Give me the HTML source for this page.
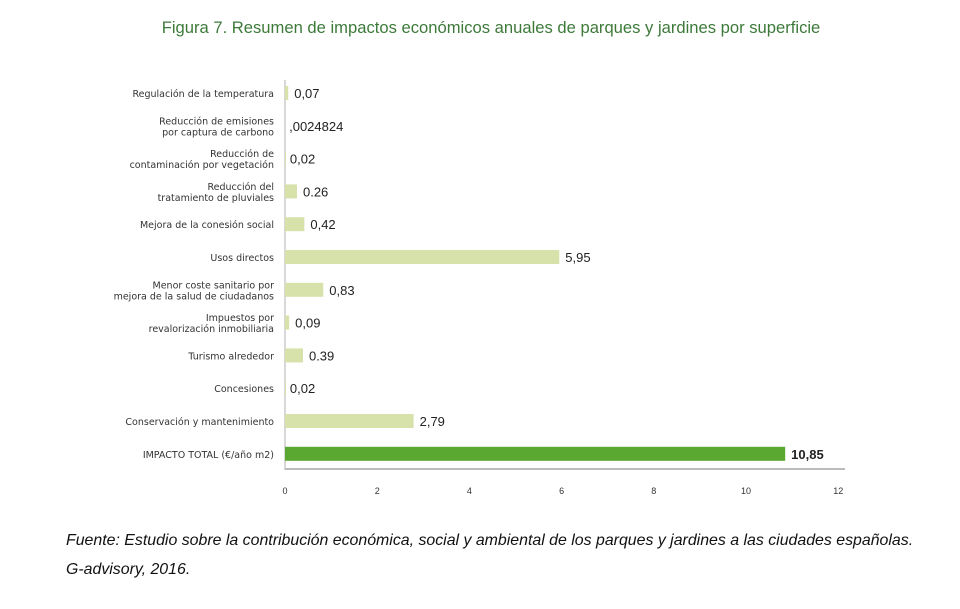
<!DOCTYPE html>
<html><head><meta charset="utf-8"><style>
body{margin:0;background:#fff;width:960px;height:609px;overflow:hidden;font-family:"Liberation Sans",sans-serif}
#title{position:absolute;left:0;width:982px;top:18px;text-align:center;color:#3d7a3a;font-size:16.6px}
.src{position:absolute;left:66px;font-style:italic;font-size:15.9px;color:#111}
</style></head><body>
<div id="title">Figura 7. Resumen de impactos económicos anuales de parques y jardines por superficie</div>
<svg id="chart" width="960" height="520" style="position:absolute;left:0;top:0"></svg>
<div class="src" style="top:532px">Fuente: Estudio sobre la contribución económica, social y ambiental de los parques y jardines a las ciudades españolas.</div>
<div class="src" style="top:561px">G-advisory, 2016.</div>
<script>
const categories=[["Regulación de la temperatura"],["Reducción de emisiones","por captura de carbono"],["Reducción de","contaminación por vegetación"],["Reducción del","tratamiento de pluviales"],["Mejora de la conesión social"],["Usos directos"],["Menor coste sanitario por","mejora de la salud de ciudadanos"],["Impuestos por","revalorización inmobiliaria"],["Turismo alrededor"],["Concesiones"],["Conservación y mantenimiento"],["IMPACTO TOTAL  (€/año m2)"]];
const values=[0.07,0.0024824,0.02,0.26,0.42,5.95,0.83,0.09,0.39,0.02,2.79,10.85];
const valueLabels=["0,07",",0024824","0,02","0.26","0,42","5,95","0,83","0,09","0.39","0,02","2,79","10,85"];
const ticks=[0,2,4,6,8,10,12];
const ns="http://www.w3.org/2000/svg",svg=document.getElementById("chart");
const x=v=>285+v*46.1, y=i=>93+i*32.8;
function mk(t,a,p){const e=document.createElementNS(ns,t);for(const k in a)e.setAttribute(k,a[k]);(p||svg).appendChild(e);return e;}
const ax=mk("line",{x1:285,y1:80,x2:285,y2:470,stroke:"#ccc","stroke-width":1.5});


const bx=mk("line",{x1:285,y1:469,x2:845,y2:469,stroke:"#bbb","stroke-width":2});


ticks.forEach(t=>{const e=mk("text",{x:x(t),y:494,"font-size":9,"text-anchor":"middle",fill:"#333"});e.textContent=t;

});
categories.forEach((c,i)=>{
 const last=i===categories.length-1;
 const r=mk("rect",{x:285,y:y(i)-7,width:Math.max(0,x(values[i])-285),height:14,fill:last?"#5aa832":"#d6e2aa"});
 
 
 const n=c.length;
 c.forEach((line,j)=>{const t=mk("text",{x:274,y:y(i)+4+(j-(n-1)/2)*11,"font-size":9.5,"font-family":"DejaVu Sans, sans-serif","text-anchor":"end",fill:"#333"});t.textContent=line;
 
 });
 const v=mk("text",{x:x(values[i])+(values[i]<0.05?4:6),y:y(i)+5,"font-size":13,fill:"#222","font-weight":last?"bold":"normal"});v.textContent=valueLabels[i];
 
 
});
</script>
</body></html>
